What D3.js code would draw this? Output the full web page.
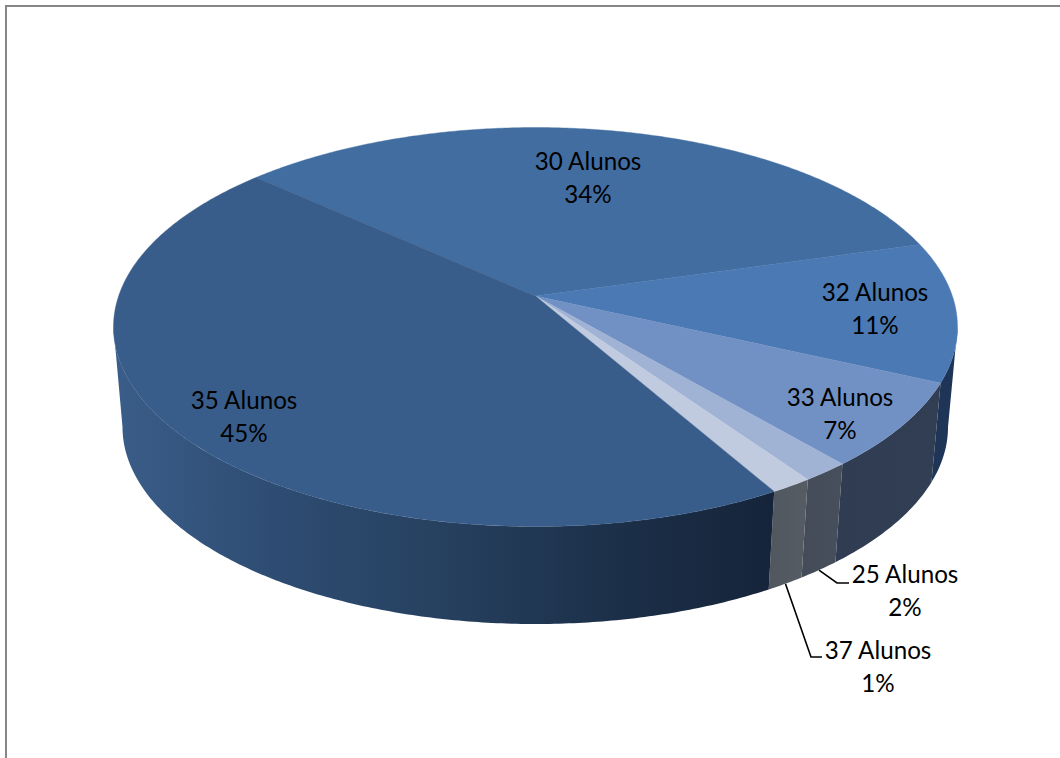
<!DOCTYPE html>
<html>
<head>
<meta charset="utf-8">
<script src="https://cdn.jsdelivr.net/npm/d3@7/dist/d3.min.js"></script>
<style>
html,body{margin:0;padding:0;background:#fff}
svg{display:block}
text{font-family:Lato,"Open Sans",sans-serif;font-size:24.2px;fill:#000}
</style>
</head>
<body>
<svg id="chart" width="1060" height="758"></svg>
<script>
// Data
const categories = ["30 Alunos","32 Alunos","33 Alunos","25 Alunos","37 Alunos","35 Alunos"];
const shares     = [33.8,11.3,6.9,1.6,1.4,45];
const percentLabels = ["34%","11%","7%","2%","1%","45%"];
const topColors  = ["#426da1","#4a79b3","#7191c4","#a0b3d5","#c0cbe0","#395d8a"];
const wallColors = [
  ["#2b4a73","#2b4a73"],
  ["#1f3557","#1f3557"],
  ["#2f3c52","#323e53"],
  ["#444b59","#484f5c"],
  ["#50575f","#555c64"],
  ["#3a5d89","#2e4c72","#26405f","#1c3049","#15243a"]
];

const W = 1060, H = 758, TAU = Math.PI * 2;
const svg = d3.select("#chart");

// frame of the chart area
const frame = d3.path();
frame.moveTo(6, H); frame.lineTo(6, 6); frame.lineTo(W, 6);
svg.append("path").attr("d", frame.toString()).attr("fill","none").attr("stroke","#868686").attr("stroke-width",2);

// Projection of the tilted disc: unit circle -> screen, keeping the perspective shift of the apex
const tilt = -0.155;
const topX = d3.scaleLinear().domain([-1,1]).range([113.5,957.5]);
const topY = d3.scaleLinear().domain([-1,1]).range([127.5,526.5]);
const botX = d3.scaleLinear().domain([-1,1]).range([122.5,948]);
const botY = d3.scaleLinear().domain([-1,1]).range([230,624]);
function persp(a){
  const u = Math.sin(a), v = -Math.cos(a), d = 1 + tilt * v;
  return [u * Math.sqrt(1 - tilt * tilt) / d, (v + tilt) / d];
}
const onTop = a => { const p = persp(a); return [topX(p[0]), topY(p[1])]; };
const onBot = a => { const p = persp(a); return [botX(p[0]), botY(p[1])]; };
const apex = [topX(0), topY(tilt)];

const startAngle = 312.3 * Math.PI / 180;
const pie = d3.pie().sort(null).value(d => d)
  .startAngle(startAngle)
  .endAngle(startAngle + TAU);
const arcs = pie(shares);

const samples = (a0, a1) => {
  const n = Math.max(2, Math.ceil((a1 - a0) / 0.01));
  return d3.range(n + 1).map(i => a0 + (a1 - a0) * i / n);
};
const line = d3.line();

// Side wall: only the part of the rim in front of the silhouette
const frontA = Math.acos(tilt) + TAU;           // where the projected rim is widest, right side
const frontB = TAU - Math.acos(tilt) + TAU;     // same, left side
const defs = svg.append("defs");
arcs.forEach((d, i) => {
  const stops = wallColors[i];
  const a0 = Math.max(d.startAngle, frontA), a1 = Math.min(d.endAngle, frontB);
  if (a1 <= a0) return;
  const t = samples(a0, a1);
  const upper = t.map(onTop), lower = t.map(onBot).reverse();
  const xs = upper.concat(lower).map(p => p[0]);
  const id = "wall" + i;
  // the wall runs from light (left) to dark (right)
  const g = defs.append("linearGradient").attr("id", id).attr("gradientUnits","userSpaceOnUse")
    .attr("x1", d3.min(xs)).attr("x2", d3.max(xs)).attr("y1",0).attr("y2",0);
  stops.forEach((c, k) => g.append("stop").attr("offset", k / (stops.length - 1)).attr("stop-color", c));
  svg.append("path").attr("d", line(upper.concat(lower)) + "Z").attr("fill", `url(#${id})`);
});

// Top face
arcs.forEach((d, i) => {
  const pts = [apex].concat(samples(d.startAngle, d.endAngle).map(onTop));
  svg.append("path").attr("d", line(pts) + "Z").attr("fill", topColors[i])
    .attr("stroke", topColors[i]).attr("stroke-width", 0.4);
});

// Labels
const labelAt = {
  "30 Alunos":[588,170], "32 Alunos":[875,301], "33 Alunos":[840,406],
  "25 Alunos":[905,583], "37 Alunos":[878,659], "35 Alunos":[244,409]
};
const lineGap = 33;
categories.forEach((c, i) => {
  const [x, y] = labelAt[c];
  const t = svg.append("text").attr("text-anchor","middle");
  t.append("tspan").attr("x", x).attr("y", y).text(c);
  t.append("tspan").attr("x", x).attr("y", y + lineGap).text(percentLabels[i]);
});

// Leader lines
const elbows = { "25 Alunos":[[837,583],[849,583]], "37 Alunos":[[811,657],[822,657]] };
categories.forEach((c, i) => {
  if (!elbows[c]) return;
  const mid = (arcs[i].startAngle + arcs[i].endAngle) / 2;
  svg.append("path").attr("d", line([onBot(mid)].concat(elbows[c])))
    .attr("fill","none").attr("stroke","#000").attr("stroke-width",1.6);
});
</script>
</body>
</html>
